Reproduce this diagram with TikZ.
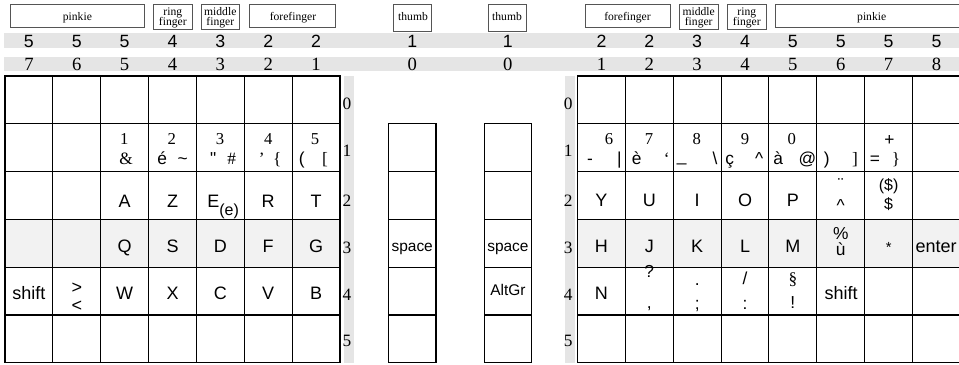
\documentclass[tikz,border=0pt]{standalone}
\usepackage{fontspec}
\setmainfont{Liberation Serif}
\newfontfamily\ksans{Liberation Sans}
\usetikzlibrary{fit}
\definecolor{bandgray}{HTML}{E5E5E5}
\definecolor{rowgray}{HTML}{F2F2F2}
\definecolor{boxline}{HTML}{555555}
\begin{document}
\begin{tikzpicture}[x=0.75pt,y=-0.75pt,
  cellbox/.style={draw=black,line width=0.8pt,minimum width=35.9pt,minimum height=35.85pt,inner sep=0pt,outer sep=0pt},
  thumbbox/.style={cellbox,minimum width=35.7pt},
  hdrbox/.style={draw=boxline,line width=0.7pt,inner sep=0pt,outer sep=0pt},
  txt/.style={inner sep=0pt,outer sep=0pt,anchor=base},
  key/.style={txt,font=\ksans\fontsize{13.5}{16}\selectfont},
  ksym/.style={txt,font=\ksans\fontsize{13}{15}\selectfont},
  kser/.style={txt,font=\rmfamily\fontsize{13}{15}\selectfont},
  knum/.style={txt,font=\rmfamily\fontsize{12.5}{15}\selectfont},
  thumbtxt/.style={txt,font=\ksans\fontsize{11.6}{14}\selectfont},
  bandA/.style={txt,font=\ksans\fontsize{13.3}{15}\selectfont},
  bandB/.style={txt,font=\rmfamily\fontsize{14}{16}\selectfont},
  rowlab/.style={txt,font=\rmfamily\fontsize{13}{15}\selectfont},
  hdr/.style={txt,font=\rmfamily\fontsize{8.7}{10}\selectfont},
]
\useasboundingbox (0,0) rectangle (959,364);
\clip (0,0) rectangle (959,364);
% grey bands
\fill[bandgray] (4,33.3) rectangle (959,47.7);
\fill[bandgray] (4,56.7) rectangle (959,71);
\fill[bandgray] (344.3,76) rectangle (354,363);
\fill[bandgray] (565,76) rectangle (575,363);
\fill[rowgray] (5,219.4) rectangle (340,267.2);
\fill[rowgray] (577.5,219.4) rectangle (961,267.2);
% grids
\foreach \r in {0,...,5}{
  \foreach \c in {0,...,6}{
    \node[cellbox] (L\r\c) at ({5+47.86*(\c+0.5)},{76+47.8*(\r+0.5)}) {};
  }
  \foreach \c in {0,...,7}{
    \node[cellbox] (R\r\c) at ({577.5+47.86*(\c+0.5)},{76+47.8*(\r+0.5)}) {};
  }
}
\foreach \r in {1,...,5}{
  \node[thumbbox] (TL\r) at (412.2,{76+47.8*(\r+0.5)}) {};
  \node[thumbbox] (TR\r) at (507.9,{76+47.8*(\r+0.5)}) {};
}
% header boxes
\node[hdrbox,fit={(10.7,4)(144,27)}] (hbPL) {};
\node[hdrbox,fit={(153,4)(192.5,29.5)}] (hbRL) {};
\node[hdrbox,fit={(201.5,4)(239,29.5)}] (hbML) {};
\node[hdrbox,fit={(249,4)(335,27)}] (hbFL) {};
\node[hdrbox,fit={(393,4)(431.7,31)}] (hbTL) {};
\node[hdrbox,fit={(488.3,4)(526.7,31)}] (hbTR) {};
\node[hdrbox,fit={(585,4)(670.7,27)}] (hbFR) {};
\node[hdrbox,fit={(679,4)(718.3,29.5)}] (hbMR) {};
\node[hdrbox,fit={(727,4)(766.7,29.5)}] (hbRR) {};
\node[hdrbox,fit={(775,4)(968,27)}] (hbPR) {};
\node[hdr] (htPL) at (77.4,20.5) {pinkie};
\node[hdr] (htRL1) at (172.8,16) {ring};
\node[hdr] (htRL2) at (172.8,25.5) {finger};
\node[hdr] (htML1) at (220.3,16) {middle};
\node[hdr] (htML2) at (220.3,25.5) {finger};
\node[hdr] (htFL) at (293,20.5) {forefinger};
\node[hdr] (htTL) at (413,20.7) {thumb};
\node[hdr] (htTR) at (507,20.7) {thumb};
\node[hdr] (htFR) at (627.5,20.5) {forefinger};
\node[hdr] (htMR1) at (698.7,16) {middle};
\node[hdr] (htMR2) at (698.7,25.5) {finger};
\node[hdr] (htRR1) at (746.8,16) {ring};
\node[hdr] (htRR2) at (746.8,25.5) {finger};
\node[hdr] (htPR) at (871.7,20.5) {pinkie};
% finger numbers
\foreach \t/\x [count=\i] in {5/28.93,5/76.79,5/124.65,4/172.51,3/220.37,2/268.23,2/316.09,1/412.2,1/507.9,2/601.43,2/649.29,3/697.15,4/745.01,5/792.87,5/840.73,5/888.59,5/936.45}
  \node[bandA] (na\i) at (\x,47.3) {\t};
\foreach \t/\x [count=\i] in {7/28.93,6/76.79,5/124.65,4/172.51,3/220.37,2/268.23,1/316.09,0/412.2,0/507.9,1/601.43,2/649.29,3/697.15,4/745.01,5/792.87,6/840.73,7/888.59,8/936.45}
  \node[bandB] (nb\i) at (\x,70.6) {\t};
% row labels
\foreach \t/\y in {0/109.3,1/156,2/206.7,3/253,4/300,5/346.7}{
  \node[rowlab] (rl\t) at (347,\y) {\t};
  \node[rowlab] (rr\t) at (568.3,\y) {\t};
}
% left row 1
\node[knum] (k1) at (124.2,144) {1};
\node[kser] (s1) at (126,164) {\&};
\node[knum] (k2) at (171.7,144) {2};
\node[ksym] (s2a) at (162.3,164) {é};
\node[ksym] (s2b) at (182.7,164) {\textasciitilde};
\node[knum] (k3) at (220,144) {3};
\node[ksym] (s3a) at (213.3,164) {"};
\node[kser] (s3b) at (231.7,164) {\#};
\node[knum] (k4) at (268.3,144) {4};
\node[kser] (s4a) at (261.7,164) {’};
\node[kser] (s4b) at (277.3,164) {\{};
\node[knum] (k5) at (315,144) {5};
\node[ksym] (s5a) at (301.7,164) {(};
\node[kser] (s5b) at (325,164) {[};
% left row 2
\node[key] (kA) at (124.65,207.3) {A};
\node[key] (kZ) at (172.51,207.3) {Z};
\node[key,anchor=base west] (kE) at (207.3,207.3) {E\raisebox{-5.8pt}{\fontsize{12}{12}\selectfont(e)}};
\node[key] (kR) at (268.23,207.3) {R};
\node[key] (kT) at (316.09,207.3) {T};
% left row 3
\node[key] (kQ) at (124.65,252.7) {Q};
\node[key] (kS) at (172.51,252.7) {S};
\node[key] (kD) at (220.37,252.7) {D};
\node[key] (kF) at (268.23,252.7) {F};
\node[key] (kG) at (316.09,252.7) {G};
% left row 4
\node[key] (kshL) at (28.93,299.3) {shift};
\node[key] (kgt) at (76.79,293.5) {>};
\node[key] (klt) at (76.79,311) {<};
\node[key] (kW) at (124.65,299.3) {W};
\node[key] (kX) at (172.51,299.3) {X};
\node[key] (kC) at (220.37,299.3) {C};
\node[key] (kV) at (268.23,299.3) {V};
\node[key] (kB) at (316.09,299.3) {B};
% thumbs
\node[thumbtxt] (tsp1) at (412.2,251) {space};
\node[thumbtxt] (tsp2) at (507.9,251) {space};
\node[thumbtxt] (talt) at (507.9,295) {AltGr};
% right row 1
\node[knum] (k6) at (609,144) {6};
\node[ksym] (s6a) at (590,164) {-};
\node[ksym] (s6b) at (619.3,164) {|};
\node[knum] (k7) at (649,144) {7};
\node[ksym] (s7a) at (636.7,164) {è};
\node[kser] (s7b) at (666.7,164) {‘};
\node[knum] (k8) at (696.7,144) {8};
\node[ksym] (s8a) at (681.7,161.5) {\_};
\node[ksym] (s8b) at (715,164) {\textbackslash};
\node[knum] (k9) at (745,144) {9};
\node[ksym] (s9a) at (729.8,164) {ç};
\node[ksym] (s9b) at (759.3,164) {\textasciicircum};
\node[knum] (k0) at (791.7,144) {0};
\node[ksym] (s0a) at (778.3,164) {à};
\node[ksym] (s0b) at (807.3,164) {@};
\node[ksym] (sPa) at (826.7,164) {)};
\node[kser] (sPb) at (855,164) {]};
\node[ksym] (kPlus) at (889.3,145.5) {+};
\node[ksym] (sEa) at (875,164) {=};
\node[kser] (sEb) at (896,164) {\}};
% right row 2
\node[key] (kY) at (601.43,206.7) {Y};
\node[key] (kU) at (649.29,206.7) {U};
\node[key] (kI) at (697.15,206.7) {I};
\node[key] (kO) at (745.01,206.7) {O};
\node[key] (kP) at (792.87,206.7) {P};
\node[ksym] (kuml) at (840.73,190) {¨};
\node[ksym] (kcirc) at (840.73,211) {\textasciicircum};
\node[txt,font=\ksans\fontsize{12}{14}\selectfont] (kdol1) at (888.59,190.5) {(\$)};
\node[txt,font=\ksans\fontsize{12}{14}\selectfont] (kdol2) at (888.59,209.5) {\$};
% right row 3
\node[key] (kH) at (601.43,252.7) {H};
\node[key] (kJ) at (649.29,252.7) {J};
\node[key] (kK) at (697.15,252.7) {K};
\node[key] (kL) at (745.01,252.7) {L};
\node[key] (kM) at (792.87,252.7) {M};
\node[ksym] (kpct) at (840.73,239.3) {\%};
\node[ksym] (kugr) at (840.73,255) {ù};
\node[txt,font=\ksans\fontsize{11}{13}\selectfont] (kast) at (888.59,252) {*};
\node[key,anchor=base west] (kent) at (915.5,252.7) {enter};
% right row 4
\node[key] (kN) at (601.43,299.3) {N};
\node[ksym] (kq) at (649.29,277) {?};
\node[ksym] (kcom) at (649.29,308) {,};
\node[ksym] (kdot) at (697.15,285) {.};
\node[ksym] (ksemi) at (697.15,309) {;};
\node[ksym] (kslash) at (745.01,284) {/};
\node[ksym] (kcolon) at (745.01,309) {:};
\node[kser] (ksect) at (792.87,284) {§};
\node[ksym] (kexcl) at (792.87,308) {!};
\node[key] (kshR) at (841,299.3) {shift};
\end{tikzpicture}
\end{document}
